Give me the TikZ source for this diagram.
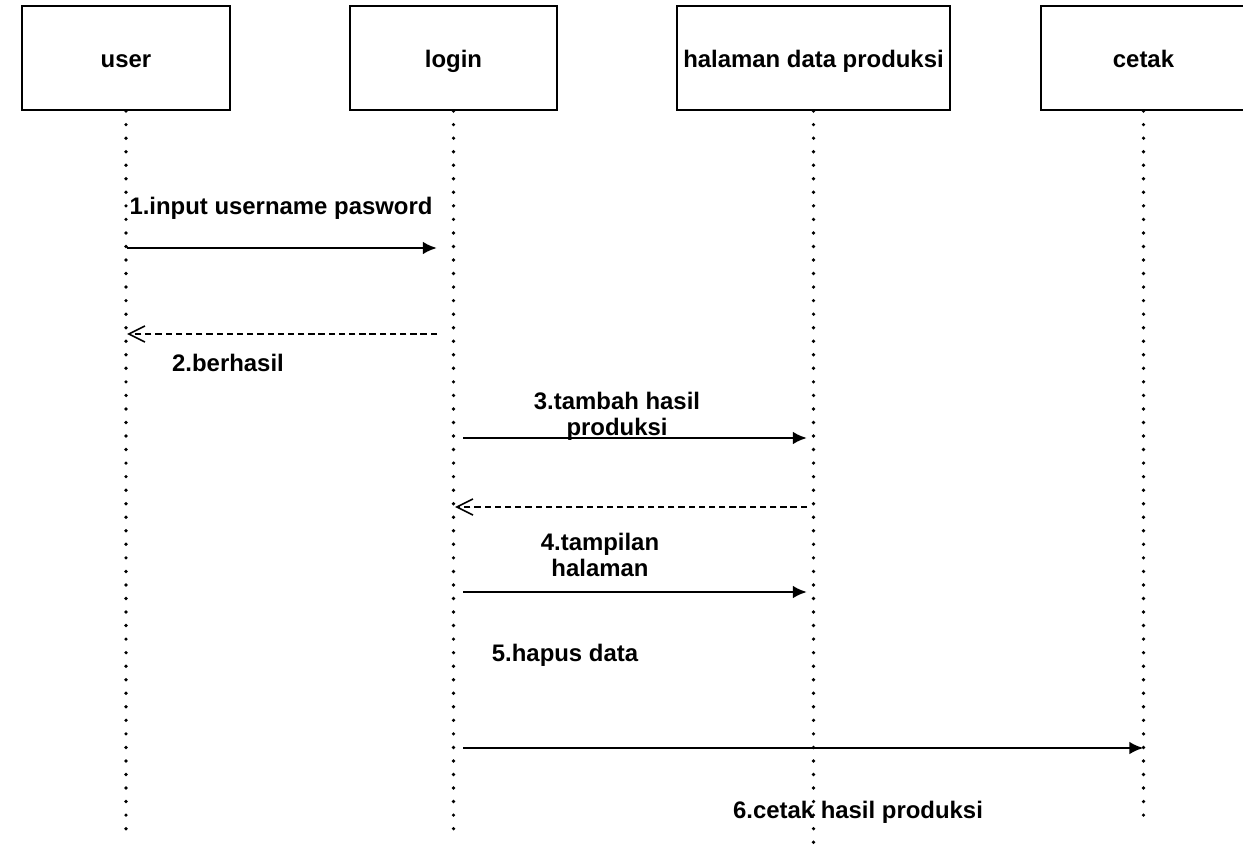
\documentclass[tikz,border=0pt]{standalone}
\usepackage{fontspec}
\setmainfont{Liberation Sans}
\usetikzlibrary{arrows.meta}

\def\LINECOLOR{black}
\def\BOXCOLOR{white}
\newcommand{\labelfont}{\fontsize{6.8pt}{7.4pt}\selectfont\bfseries}

\tikzset{
	actorbox/.style={draw=\LINECOLOR,fill=\BOXCOLOR,line width=0.6pt,inner sep=0pt,minimum height=1.04cm,text height=0.25cm,text depth=0.05cm,font=\labelfont},
	lifeline/.style={draw=\LINECOLOR,line width=1.05pt,line cap=round,dash pattern=on 0pt off 3.85pt},
	callmsg/.style={draw=\LINECOLOR,line width=0.75pt,-{Latex[length=4pt,width=3.6pt]}},
	replymsg/.style={draw=\LINECOLOR,line width=0.45pt,dash pattern=on 1.8pt off 1.1pt,-{Straight Barb[length=4.6pt,width=4.6pt,line width=0.45pt]}},
	msglabel/.style={font=\labelfont,inner sep=0pt,align=center}
}

\begin{document}
\begin{tikzpicture}[x=0.01cm,y=-0.01cm]

	\useasboundingbox (0,0) rectangle (1243,849);

	\node[actorbox,minimum width=2.08cm] (user) at (126,58) {user};
	\node[actorbox,minimum width=2.07cm] (login) at (453.5,58) {login};
	\node[actorbox,minimum width=2.73cm] (halaman) at (813.5,58) {halaman data produksi};
	\node[actorbox,minimum width=2.05cm] (cetak) at (1143.5,58) {cetak};

	\coordinate (userend) at (126,835);
	\coordinate (loginend) at (453.5,835);
	\coordinate (halamanend) at (813.5,846);
	\coordinate (cetakend) at (1143.5,818);
	\draw[lifeline] (user.south) -- (userend);
	\draw[lifeline] (login.south) -- (loginend);
	\draw[lifeline] (halaman.south) -- (halamanend);
	\draw[lifeline] (cetak.south) -- (cetakend);

	\coordinate (inputfrom) at (127,248);
	\coordinate (inputto) at (437,248);
	\coordinate (berhasilfrom) at (437,334);
	\coordinate (berhasilto) at (127,334);
	\coordinate (tambahfrom) at (463,438);
	\coordinate (tambahto) at (807,438);
	\coordinate (balikfrom) at (807,507);
	\coordinate (balikto) at (455,507);
	\coordinate (tampilfrom) at (463,592);
	\coordinate (tampilto) at (807,592);
	\coordinate (cetakfrom) at (463,748);
	\coordinate (cetakto) at (1143.5,748);

	\draw[callmsg] (inputfrom) -- (inputto);
	\draw[replymsg] (berhasilfrom) -- (berhasilto);
	\draw[callmsg] (tambahfrom) -- (tambahto);
	\draw[replymsg] (balikfrom) -- (balikto);
	\draw[callmsg] (tampilfrom) -- (tampilto);
	\draw[callmsg] (cetakfrom) -- (cetakto);

	\node[msglabel] (inputlabel) at (281,208) {1.input username pasword};
	\node[msglabel] (berhasillabel) at (228,363) {2.berhasil};
	\node[msglabel] (tambahlabel) at (617,416) {3.tambah hasil\\produksi};
	\node[msglabel] (tampillabel) at (600,555) {4.tampilan\\halaman};
	\node[msglabel] (hapuslabel) at (565,655) {5.hapus data};
	\node[msglabel] (cetaklabel) at (858,812) {6.cetak hasil produksi};

\end{tikzpicture}
\end{document}
